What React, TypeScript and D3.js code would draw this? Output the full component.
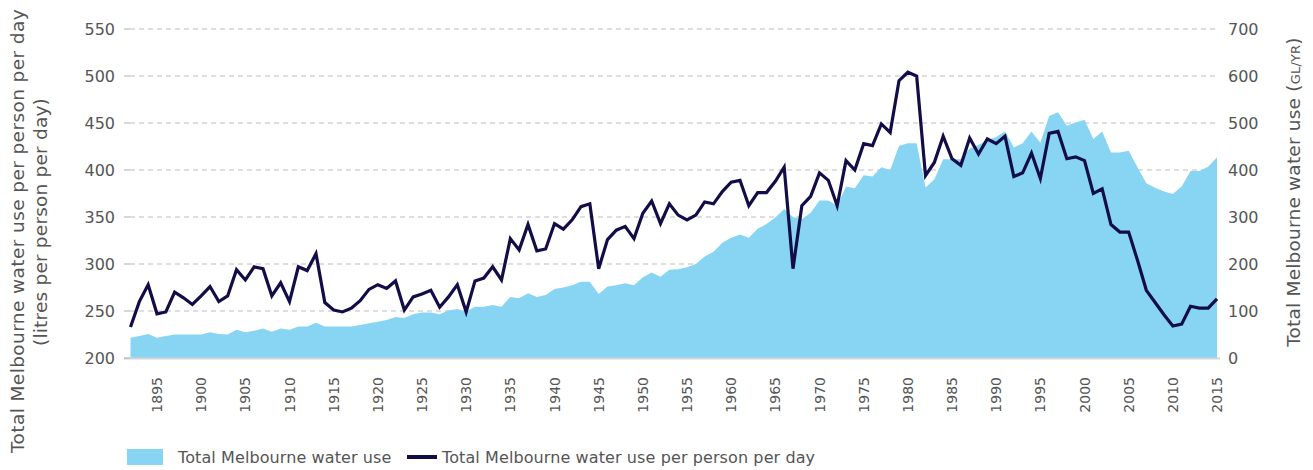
import { useEffect, useRef } from 'react';
import * as d3 from 'd3';

// years 1892..2015
const startYear = 1892;

// Total Melbourne water use per person per day (litres)
const perPerson = [
  233, 260, 278, 247, 249, 270, 264, 257, 266, 276,
  260, 266, 294, 283, 297, 295, 266, 280, 260, 297,
  293, 311, 259, 251, 249, 253, 261, 273, 278, 274,
  282, 251, 265, 268, 272, 254, 265, 278, 249, 282,
  285, 297, 283, 327, 315, 342, 314, 316, 343, 337,
  347, 361, 364, 295, 326, 336, 340, 327, 354, 367,
  343, 364, 352, 347, 352, 366, 364, 377, 387, 389,
  362, 376, 376, 388, 403, 295, 362, 372, 397, 389,
  362, 410, 400, 428, 426, 449, 440, 495, 504, 500,
  394, 408, 436, 412, 405, 434, 417, 433, 428, 436,
  393, 397, 418, 391, 439, 441, 412, 414, 410, 375,
  380, 342, 334, 334, 304, 272, 259, 246, 234, 236,
  255, 253, 253, 263,
];

// Total Melbourne water use (GL/yr)
const totalUse = [
  43, 47, 51, 43, 47, 50, 50, 50, 50, 55,
  51, 50, 60, 55, 58, 63, 56, 63, 60, 67,
  67, 75, 67, 67, 67, 67, 70, 74, 77, 81,
  87, 85, 93, 97, 97, 93, 101, 104, 99, 109,
  109, 113, 109, 130, 127, 138, 130, 134, 147, 150,
  155, 162, 162, 136, 152, 155, 159, 155, 172, 182,
  173, 188, 189, 193, 200, 216, 226, 245, 256, 263,
  256, 275, 285, 299, 317, 300, 295, 309, 335, 335,
  324, 365, 361, 389, 386, 406, 400, 451, 457, 457,
  363, 380, 423, 423, 423, 446, 453, 464, 470, 482,
  448, 457, 482, 458, 515, 523, 494, 501, 507, 466,
  482, 437, 437, 441, 406, 372, 362, 354, 349, 365,
  398, 398, 407, 427,
];

const leftTicks = [200, 250, 300, 350, 400, 450, 500, 550];
const rightTicks = [0, 100, 200, 300, 400, 500, 600, 700];
const yearTicks = d3.range(1895, 2016, 5);

const areaColor = '#87D5F3';
const lineColor = '#130D47';
const textColor = '#555555';
const font = 'DejaVu Sans, sans-serif';

export default function App() {
  const svgRef = useRef<SVGSVGElement>(null);

  useEffect(() => {
    if (!svgRef.current) return;
    const svg = d3.select(svgRef.current);
    svg.selectAll('*').remove();

    const width = 1313;
    const height = 470;
    svg.attr('width', width).attr('height', height);

    const data = perPerson.map((v, i) => ({
      year: startYear + i,
      perPerson: v,
      total: totalUse[i],
    }));

    const x = d3.scaleLinear().domain([1892, 2015]).range([130.5, 1217]);
    const yLeft = d3.scaleLinear().domain([200, 550]).range([358, 29]);
    const yRight = d3.scaleLinear().domain([0, 700]).range([358, 29]);

    // Grid lines (behind area)
    svg.append('g')
      .selectAll('line')
      .data(leftTicks.filter(t => t > 200))
      .enter()
      .append('line')
      .attr('x1', 130)
      .attr('x2', 1218)
      .attr('y1', d => yLeft(d))
      .attr('y2', d => yLeft(d))
      .attr('stroke', '#bdbdc4')
      .attr('stroke-width', 1.2)
      .attr('stroke-dasharray', '5,4');

    // Area
    const area = d3.area<any>()
      .x(d => x(d.year))
      .y0(yRight(0))
      .y1(d => yRight(d.total));

    svg.append('path')
      .datum(data)
      .attr('d', area)
      .attr('fill', areaColor);

    // Baseline
    svg.append('line')
      .attr('x1', 124)
      .attr('x2', 1220)
      .attr('y1', 358.5)
      .attr('y2', 358.5)
      .attr('stroke', '#d4d4d4')
      .attr('stroke-width', 2);

    // Line
    const line = d3.line<any>()
      .x(d => x(d.year))
      .y(d => yLeft(d.perPerson));

    svg.append('path')
      .datum(data)
      .attr('d', line)
      .attr('fill', 'none')
      .attr('stroke', lineColor)
      .attr('stroke-width', 3.2)
      .attr('stroke-linejoin', 'miter');

    // Left axis
    const leftAxis = svg.append('g');
    leftTicks.forEach(t => {
      leftAxis.append('line')
        .attr('x1', 124)
        .attr('x2', 130)
        .attr('y1', yLeft(t))
        .attr('y2', yLeft(t))
        .attr('stroke', '#bdbdc4')
        .attr('stroke-width', 1.2);
      leftAxis.append('text')
        .attr('x', 115)
        .attr('y', yLeft(t))
        .attr('dy', '0.36em')
        .attr('text-anchor', 'end')
        .style('font-family', font)
        .style('font-size', '16px')
        .attr('fill', textColor)
        .text(t);
    });

    // Right axis
    const rightAxis = svg.append('g');
    rightTicks.forEach(t => {
      rightAxis.append('text')
        .attr('x', 1228)
        .attr('y', yRight(t))
        .attr('dy', '0.36em')
        .attr('text-anchor', 'start')
        .style('font-family', font)
        .style('font-size', '16px')
        .attr('fill', textColor)
        .text(t);
    });

    // X axis labels
    yearTicks.forEach(yr => {
      svg.append('text')
        .attr('transform', `translate(${x(yr)},377) rotate(-90)`)
        .attr('dy', '0.36em')
        .attr('text-anchor', 'end')
        .style('font-family', font)
        .style('font-size', '14px')
        .attr('fill', textColor)
        .text(yr);
    });

    // Left title
    svg.append('text')
      .attr('transform', 'translate(17,231) rotate(-90)')
      .attr('dy', '0.36em')
      .attr('text-anchor', 'middle')
      .style('font-family', font)
      .style('font-size', '18.5px')
      .style('letter-spacing', '0.4px')
      .attr('fill', textColor)
      .text('Total Melbourne water use per person per day');

    svg.append('text')
      .attr('transform', 'translate(40,222) rotate(-90)')
      .attr('dy', '0.36em')
      .attr('text-anchor', 'middle')
      .style('font-family', font)
      .style('font-size', '18.5px')
      .style('letter-spacing', '0.2px')
      .attr('fill', textColor)
      .text('(litres per person per day)');

    // Right title
    const rt = svg.append('text')
      .attr('transform', 'translate(1293,192) rotate(-90)')
      .attr('dy', '0.36em')
      .attr('text-anchor', 'middle')
      .style('font-family', font)
      .style('font-size', '18.5px')
      .style('letter-spacing', '0.2px')
      .attr('fill', textColor);
    rt.append('tspan').text('Total Melbourne water use (');
    rt.append('tspan').style('font-size', '13px').text('GL/YR');
    rt.append('tspan').text(')');

    // Legend
    const legend = svg.append('g');
    legend.append('rect')
      .attr('x', 127)
      .attr('y', 449)
      .attr('width', 36)
      .attr('height', 16)
      .attr('fill', areaColor);
    legend.append('text')
      .attr('x', 178)
      .attr('y', 457)
      .attr('dy', '0.36em')
      .style('font-family', font)
      .style('font-size', '16px')
      .style('letter-spacing', '0.1px')
      .attr('fill', textColor)
      .text('Total Melbourne water use');
    legend.append('line')
      .attr('x1', 407)
      .attr('x2', 437)
      .attr('y1', 457)
      .attr('y2', 457)
      .attr('stroke', lineColor)
      .attr('stroke-width', 4);
    legend.append('text')
      .attr('x', 442)
      .attr('y', 457)
      .attr('dy', '0.36em')
      .style('font-family', font)
      .style('font-size', '16px')
      .style('letter-spacing', '0.1px')
      .attr('fill', textColor)
      .text('Total Melbourne water use per person per day');
  }, []);

  return (
    <div style={{ position: 'absolute', left: 0, top: 0 }}>
      <svg ref={svgRef} style={{ display: 'block', background: '#fff' }} />
    </div>
  );
}
